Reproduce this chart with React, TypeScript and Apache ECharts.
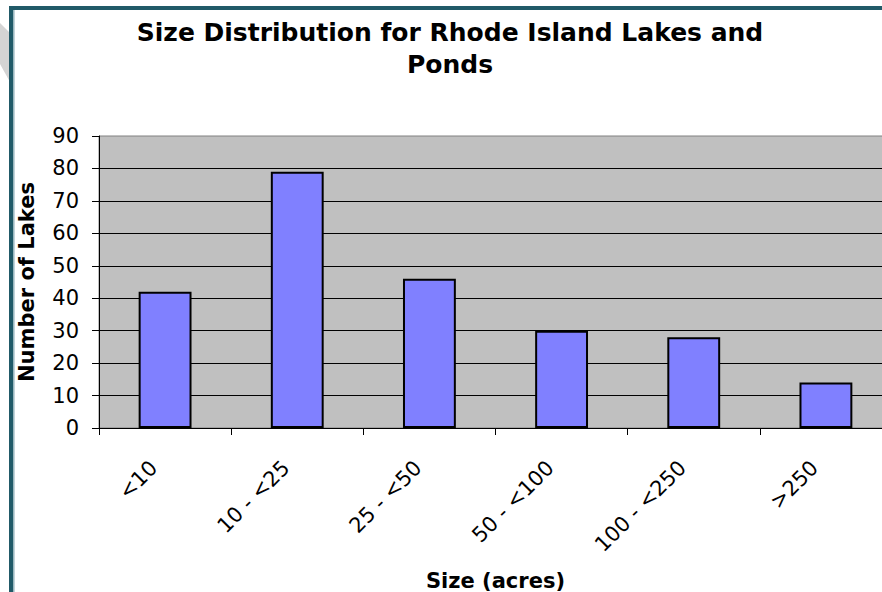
import React, { useEffect, useRef } from "react";
import * as echarts from "echarts";

const titleText = "Size Distribution for Rhode Island Lakes and\nPonds";
const categories = ["<10", "10 - <25", "25 - <50", "50 - <100", "100 - <250", ">250"];
const lakeCounts = [42, 79, 46, 30, 28, 14];
const yMin = 0;
const yMax = 90;
const yInterval = 10;
const xAxisName = "Size (acres)";
const yAxisName = "Number of Lakes";

export default function App() {
  const ref = useRef<HTMLDivElement>(null);
  useEffect(() => {
    if (!ref.current) return;
    const chart = echarts.init(ref.current, null, { renderer: "svg" });
    const font = "DejaVu Sans";
    chart.setOption({
      animation: false,
      backgroundColor: "#ffffff",
      title: {
        text: titleText,
        left: 450,
        top: 16,
        textAlign: "center",
        padding: 0,
        textStyle: {
          fontFamily: font,
          fontSize: 25,
          fontWeight: "bold",
          color: "#000000",
          lineHeight: 32,
        },
      },
      graphic: [
        {
          type: "polygon",
          shape: { points: [[0, 23], [10, 33], [10, 82], [0, 64]] },
          style: { fill: "#d4d4d4" },
          silent: true,
        },
        {
          type: "rect",
          shape: { x: 9, y: 6, width: 4.5, height: 600 },
          style: { fill: "#215a68" },
          silent: true,
        },
        {
          type: "rect",
          shape: { x: 9, y: 6, width: 900, height: 4 },
          style: { fill: "#215a68" },
          silent: true,
        },
        {
          type: "rect",
          shape: { x: 13.5, y: 10, width: 1.2, height: 600 },
          style: { fill: "#a8c2ca" },
          silent: true,
        },
      ],
      grid: {
        left: 99,
        top: 136,
        width: 793,
        height: 292,
        outerBoundsMode: "none",
        containLabel: false,
        show: true,
        backgroundColor: "#c0c0c0",
        borderColor: "#808080",
        borderWidth: 1,
      },
      xAxis: {
        type: "category",
        data: categories,
        name: xAxisName,
        nameLocation: "middle",
        nameGap: 142,
        nameTextStyle: {
          fontFamily: font,
          fontSize: 21,
          fontWeight: "bold",
          color: "#000000",
        },
        axisLine: { show: true, lineStyle: { color: "#000000", width: 1 } },
        axisTick: { show: true, length: 7, lineStyle: { color: "#000000" } },
        axisLabel: {
          rotate: 45,
          margin: 25,
          padding: [0, 16, 0, 0],
          fontFamily: font,
          fontSize: 21,
          color: "#000000",
          interval: 0,
        },
        splitLine: { show: false },
      },
      yAxis: {
        type: "value",
        min: yMin,
        max: yMax,
        interval: yInterval,
        name: yAxisName,
        nameLocation: "middle",
        nameGap: 62,
        nameTextStyle: {
          fontFamily: font,
          fontSize: 21,
          fontWeight: "bold",
          color: "#000000",
        },
        axisLine: { show: true, lineStyle: { color: "#000000", width: 1 } },
        axisTick: { show: true, length: 7, lineStyle: { color: "#000000" } },
        axisLabel: {
          margin: 20,
          fontFamily: font,
          fontSize: 21,
          color: "#000000",
        },
        splitLine: {
          show: true,
          showMaxLine: false,
          lineStyle: { color: "#000000", width: 1 },
        },
      },
      series: [
        {
          type: "bar",
          data: lakeCounts,
          barWidth: "40%",
          itemStyle: {
            color: "#8080ff",
            borderColor: "#000000",
            borderWidth: 2,
          },
        },
      ],
    });
    return () => chart.dispose();
  }, []);
  return (
    <div
      ref={ref}
      style={{ position: "absolute", left: 0, top: 0, width: 882, height: 592 }}
    />
  );
}
